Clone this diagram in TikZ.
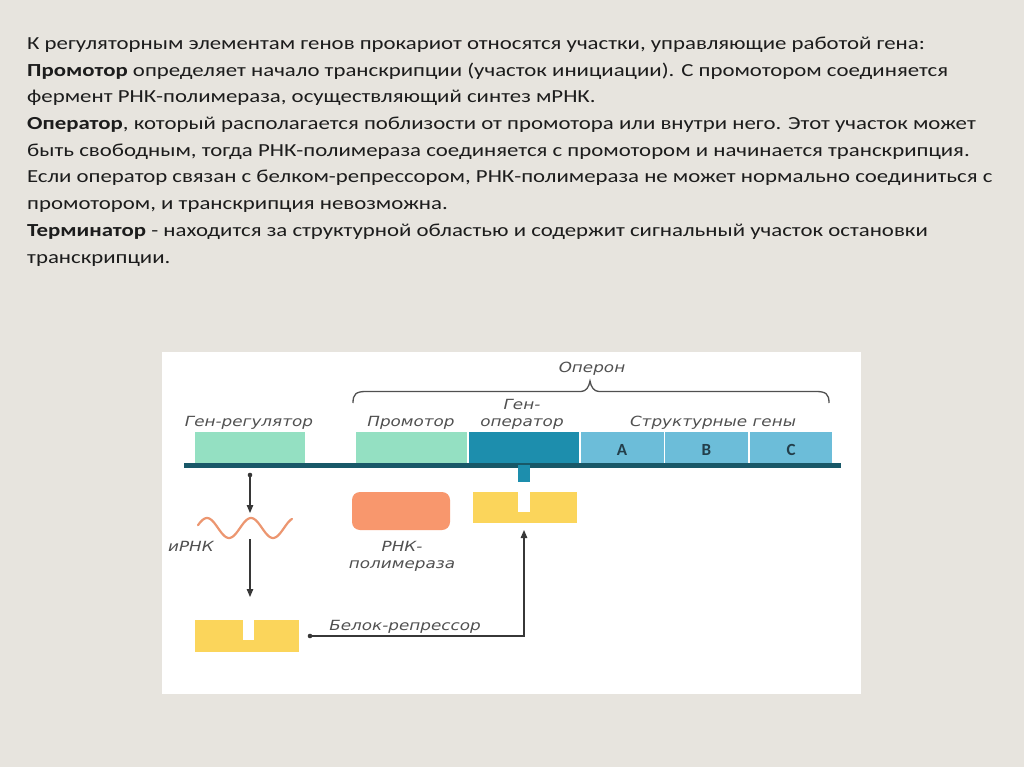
\documentclass[tikz,border=0pt]{standalone}
\usepackage{fontspec}
\setmainfont{Carlito}[FakeStretch=1.24]
\newfontfamily\lbl[FakeStretch=1.2, ItalicFont={DejaVu Sans Oblique}]{DejaVu Sans}
\newfontfamily\abcfont{Carlito}
\usetikzlibrary{arrows.meta}
\definecolor{bg}{RGB}{231,228,222}
\definecolor{gnreg}{RGB}{148,224,194}
\definecolor{oper}{RGB}{29,142,173}
\definecolor{struct}{RGB}{108,189,217}
\definecolor{dna}{RGB}{24,88,104}
\definecolor{poly}{RGB}{248,151,109}
\definecolor{yel}{RGB}{251,213,91}
\definecolor{wavec}{RGB}{236,150,112}
\definecolor{lblc}{RGB}{80,80,80}
\definecolor{arrc}{RGB}{55,55,55}
\definecolor{txt}{RGB}{28,28,28}
\definecolor{abc}{RGB}{35,62,74}
\tikzset{
  bodyline/.style={anchor=base west, inner sep=0, text=txt, font=\fontsize{18.4}{22}\selectfont},
  lab/.style={inner sep=0, text=lblc, font=\lbl\itshape\fontsize{14}{17}\selectfont},
  seg/.style={rectangle, inner sep=0, draw=none},
  letter/.style={inner sep=0, text=abc, font=\abcfont\bfseries\fontsize{17}{19}\selectfont},
  arr/.style={draw=arrc, line width=1.2pt, -{Triangle[length=8pt,width=6.5pt]}},
  dotstart/.style={fill=arrc, draw=none},
}
\begin{document}
\begin{tikzpicture}[x=1pt,y=-1pt]
\fill[bg] (0,0) rectangle (1024,767);
\useasboundingbox (0,0) rectangle (1024,767);
% body text
\node[bodyline] (t1) at (27,49.5) {К регуляторным элементам генов прокариот относятся участки, управляющие работой гена:};
\node[bodyline] (t2) at (27,76.2) {\textbf{Промотор} определяет начало транскрипции (участок инициации). С промотором соединяется};
\node[bodyline] (t3) at (27,102.9) {фермент РНК-полимераза, осуществляющий синтез мРНК.};
\node[bodyline] (t4) at (27,129.6) {\textbf{Оператор}, который располагается поблизости от промотора или внутри него. Этот участок может};
\node[bodyline] (t5) at (27,156.3) {быть свободным, тогда РНК-полимераза соединяется с промотором и начинается транскрипция.};
\node[bodyline] (t6) at (27,183.0) {Если оператор связан с белком-репрессором, РНК-полимераза не может нормально соединиться с};
\node[bodyline] (t7) at (27,209.7) {промотором, и транскрипция невозможна.};
\node[bodyline] (t8) at (27,236.4) {\textbf{Терминатор} - находится за структурной областью и содержит сигнальный участок остановки};
\node[bodyline] (t9) at (27,263.1) {транскрипции.};
% panel
\fill[white] (162,351.5) rectangle (861,694);
% gene boxes
\node[seg, fill=gnreg, minimum width=110pt, minimum height=31pt] (reg) at (250,447.5) {};
\node[seg, fill=gnreg, minimum width=111pt, minimum height=31pt] (prom) at (411.5,447.5) {};
\node[seg, fill=oper, minimum width=110pt, minimum height=31pt] (op) at (524,447.5) {};
\node[seg, fill=struct, minimum width=83pt, minimum height=31pt] (ga) at (622,447.5) {};
\node[seg, fill=struct, minimum width=83pt, minimum height=31pt] (gb) at (706.5,447.5) {};
\node[seg, fill=struct, minimum width=82pt, minimum height=31pt] (gc) at (791,447.5) {};
\node[letter] (la) at (622,450) {A};
\node[letter] (lb) at (706.5,450) {B};
\node[letter] (lc) at (791,450) {C};
% DNA strand
\coordinate (dnaL) at (184,465);
\coordinate (dnaR) at (841,465);
\draw[dna, line width=5pt] (dnaL) -- (dnaR);
% operator stem
\node[seg, fill=oper, minimum width=12pt, minimum height=17pt] (stem) at (524,473) {};
% bound repressor
\node[seg, fill=yel, minimum width=104pt, minimum height=31pt] (rep1) at (525,507.5) {};
\node[seg, fill=white, minimum width=12pt, minimum height=20pt] (notch1) at (524,502) {};
% RNA polymerase
\node[seg, fill=poly, minimum width=98pt, minimum height=38pt, rounded corners=8pt] (pol) at (401,511) {};
% free repressor
\node[seg, fill=yel, minimum width=104pt, minimum height=32pt] (rep2) at (247,636) {};
\node[seg, fill=white, minimum width=11pt, minimum height=20pt] (notch2) at (248.5,630) {};
% labels
\node[lab, anchor=base] (lreg) at (249,426) {Ген-регулятор};
\node[lab, anchor=base] (lprom) at (411,426) {Промотор};
\node[lab, anchor=base] (lop1) at (522,409.5) {Ген-};
\node[lab, anchor=base] (lop2) at (522,426) {оператор};
\node[lab, anchor=base] (lstr) at (713,426) {Структурные гены};
\node[lab, anchor=base] (lopr) at (592,372) {Оперон};
\node[lab, anchor=base] (lpol1) at (402,551.5) {РНК-};
\node[lab, anchor=base] (lpol2) at (402,568.5) {полимераза};
\node[lab, anchor=base east] (lmrna) at (214,551) {иРНК};
\node[lab, anchor=base] (lrep) at (405,630) {Белок-репрессор};
% brace over operon
\coordinate (brL) at (353,403);
\coordinate (brT) at (590,381);
\coordinate (brR) at (829,403);
\draw[lblc, line width=1.3pt] (brL) .. controls (353,394) and (356,391.5) .. (366,391.5) -- (581,391.5)
  .. controls (586,391.5) and (589,387) .. (brT) .. controls (591,387) and (594,391.5) .. (599,391.5)
  -- (816,391.5) .. controls (826,391.5) and (829,394) .. (brR);
% mRNA wave
\coordinate (wave) at (249,528);
\draw[wavec, line width=2.2pt, line cap=round] plot[domain=198:292, samples=80, variable=\x] (\x, {528 - 10*cos(8.1818*(\x-207))});
% arrows
\coordinate (d1) at (250,475);
\coordinate (m1) at (250,513);
\coordinate (m2) at (250,539);
\coordinate (m3) at (250,597);
\coordinate (d2) at (310,636);
\coordinate (c1) at (524,636);
\coordinate (m4) at (524,530);
\fill[dotstart] (d1) circle (2.3pt);
\draw[arr] (d1) -- (m1);
\draw[arr] (m2) -- (m3);
\fill[dotstart] (d2) circle (2.3pt);
\draw[arr] (d2) -- (c1) -- (m4);
\end{tikzpicture}
\end{document}
